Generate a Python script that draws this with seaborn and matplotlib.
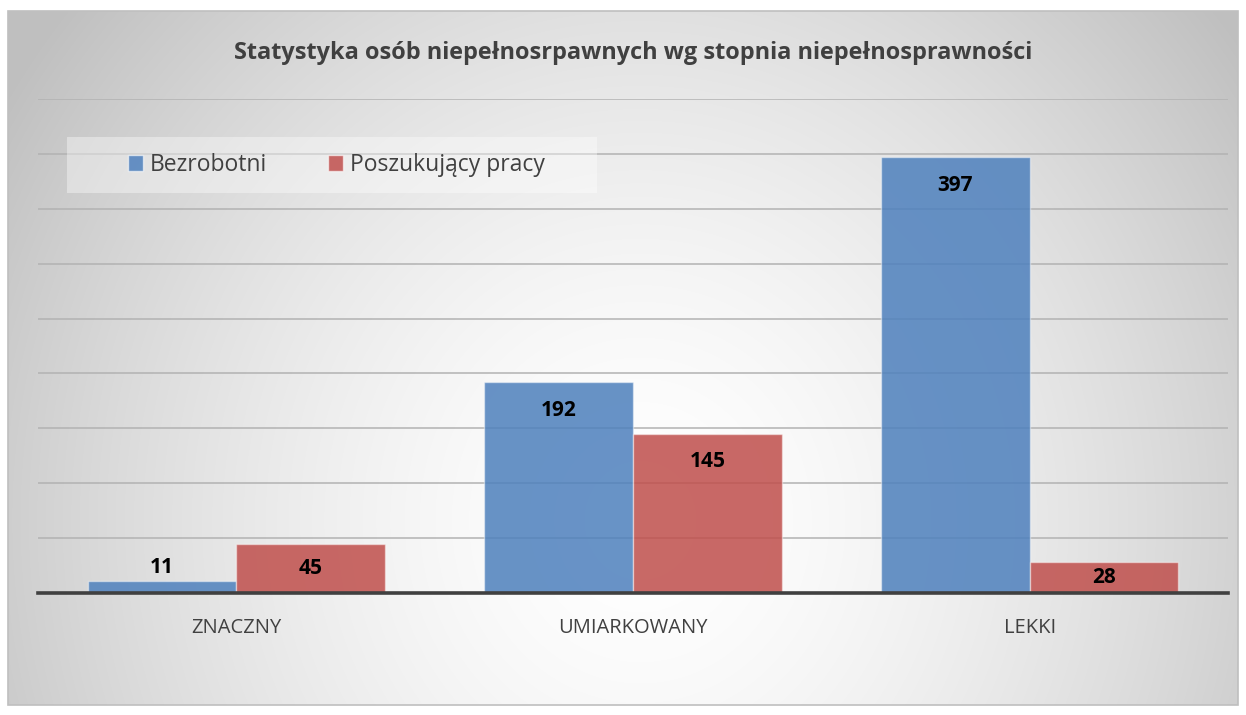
import numpy as np
import pandas as pd
import matplotlib
matplotlib.use("Agg")
import matplotlib.pyplot as plt
from matplotlib.patches import Patch, Rectangle
import seaborn as sns

# --- data -------------------------------------------------------------
categories = ["ZNACZNY", "UMIARKOWANY", "LEKKI"]
series_names = ["Bezrobotni", "Poszukujący pracy"]
bezrobotni = [11, 192, 397]
poszukujacy = [45, 145, 28]
title = "Statystyka osób niepełnosrpawnych wg stopnia niepełnosprawności"

df = pd.DataFrame({
    "stopien": categories * 2,
    "seria": [series_names[0]] * 3 + [series_names[1]] * 3,
    "liczba": bezrobotni + poszukujacy,
})

# --- style ------------------------------------------------------------
sns.set_theme(style="white")
plt.rcParams["font.family"] = ["Open Sans", "DejaVu Sans"]
TEXT = "#404040"
BLUE = (0x4F / 255, 0x81 / 255, 0xBD / 255)
RED = (0xC0 / 255, 0x50 / 255, 0x4D / 255)
ALPHA = 0.86

W, H, DPI = 1246, 715, 100
fig = plt.figure(figsize=(W / DPI, H / DPI), dpi=DPI)
fig.patch.set_facecolor("white")

# chart frame with radial gradient fill
fx0, fx1, fy0, fy1 = 8, 1238, 11, 705
bg = fig.add_axes([fx0 / W, 1 - fy1 / H, (fx1 - fx0) / W, (fy1 - fy0) / H])
bw, bh = fx1 - fx0, fy1 - fy0
xx, yy = np.meshgrid(np.arange(bw) + fx0, np.arange(bh) + fy0)
t = np.sqrt(((xx - 640) / 750.0) ** 2 + ((yy - 520) / 800.0) ** 2)
v = 1 - 0.25 * np.clip(t, 0, 1.0) ** 1.6
bg.imshow(np.dstack([v, v, v]), aspect="auto", interpolation="bilinear",
          extent=(0, 1, 0, 1))
bg.set_axis_off()
fig.patches.append(Rectangle((fx0 / W, 1 - fy1 / H), (fx1 - fx0) / W, (fy1 - fy0) / H,
                             transform=fig.transFigure, fill=False,
                             edgecolor="#bfbfbf", linewidth=1.2, zorder=0.5))

# plot area
px0, px1, py_top, py_base = 38, 1228, 99, 593
ax = fig.add_axes([px0 / W, 1 - py_base / H, (px1 - px0) / W, (py_base - py_top) / H])
ax.patch.set_alpha(0)

sns.barplot(data=df, x="stopien", y="liczba", hue="seria", order=categories,
            hue_order=series_names, palette=[BLUE, RED], width=0.75,
            ax=ax, legend=False, saturation=1)

for cont, col in zip(ax.containers, [BLUE, RED]):
    for bar in cont:
        bar.set_facecolor((*col, ALPHA))
        bar.set_edgecolor((1, 1, 1, 0.45))
        bar.set_linewidth(1.0)

ax.set_ylim(0, 450)
ax.set_xlim(-0.5, 2.5)
ax.set_yticks(np.arange(0, 451, 50))
ax.yaxis.grid(True, color="#b2b2b2", linewidth=1.1)
ax.set_axisbelow(True)
for s in ["left", "right", "top"]:
    ax.spines[s].set_visible(False)
ax.spines["bottom"].set_color("#404040")
ax.spines["bottom"].set_linewidth(2.6)
ax.spines["bottom"].set_zorder(5)
ax.set_yticklabels([])
ax.tick_params(axis="y", length=0)
ax.tick_params(axis="x", length=0, pad=18, labelsize=14.5, labelcolor=TEXT)
ax.set_xlabel("")
ax.set_ylabel("")

# value labels
px_per_unit = (py_base - py_top) / 450.0
pt_per_px = 72.0 / DPI
for cont, vals in zip(ax.containers, [bezrobotni, poszukujacy]):
    for bar, val in zip(cont, vals):
        hpx = val * px_per_unit
        if hpx < 20:
            off = 13
        else:
            off = -min(28, hpx / 2)
        ax.annotate(f"{val}", (bar.get_x() + bar.get_width() / 2, val),
                    xytext=(0, off * pt_per_px), textcoords="offset points",
                    ha="center", va="center", fontsize=15, fontweight="bold",
                    color="black", zorder=6)

# title
fig.text(633 / W, 1 - 53 / H, title, ha="center", va="center",
         fontsize=16.9, fontweight="bold", color=TEXT)

# legend with its light panel
fig.patches.append(Rectangle((67 / W, 1 - 193 / H), (597 - 67) / W, (193 - 137) / H,
                             transform=fig.transFigure, facecolor="white",
                             alpha=0.38, edgecolor="none", zorder=1))
handles = [Patch(facecolor=(*BLUE, ALPHA), edgecolor=(1, 1, 1, 0.6)),
           Patch(facecolor=(*RED, ALPHA), edgecolor=(1, 1, 1, 0.6))]
leg = fig.legend(handles, series_names, loc="center left",
                 bbox_to_anchor=(128 / W, 1 - 165 / H), ncol=2, frameon=False,
                 fontsize=16.5, handlelength=0.65, handleheight=0.65,
                 handletextpad=0.3, columnspacing=2.65, borderpad=0,
                 borderaxespad=0)
for txt in leg.get_texts():
    txt.set_color(TEXT)

fig.savefig("out.png", dpi=DPI)
